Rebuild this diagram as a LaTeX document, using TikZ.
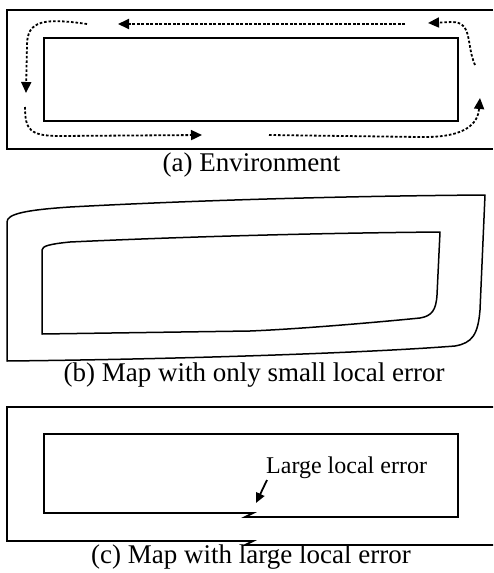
\documentclass[tikz,border=0pt]{standalone}
\usepackage{fontspec}
\setmainfont{Liberation Serif}
\usetikzlibrary{arrows.meta}
\begin{document}
\begin{tikzpicture}[x=1pt,y=-1pt,
  wall/.style={line width=1.8pt, line join=miter},
  mapline/.style={line width=1.5pt, line join=round},
  route/.style={line width=1.8pt, dash pattern=on 2.6pt off 1.9pt, -{Triangle[length=11pt,width=10pt]}},
  captext/.style={anchor=base, font=\fontsize{27}{27}\selectfont, inner sep=0pt},
  lbl/.style={anchor=base west, font=\fontsize{24}{24}\selectfont, inner sep=0pt},
  pointer/.style={line width=1.8pt, -{Triangle[length=10pt,width=9pt]}}]
\useasboundingbox (0,0) rectangle (493,573);

% ---------- (a) Environment ----------
\draw[wall] (493,10) -- (7,10) -- (7,149) -- (493,149);
\draw[wall] (44,38) rectangle (458,121);
\draw[route] (405,24) -- (118,24);
\draw[route] (87,24) .. controls (45,18) and (27,20) .. (27,45) -- (26,93);
\draw[route] (25,107) .. controls (25,130) and (30,136) .. (60,136) -- (202,135);
\draw[route] (269,135) -- (420,137) .. controls (468,138) and (478,122) .. (480,98);
\draw[route] (475,65) .. controls (466,45) and (473,22) .. (452,22) -- (428,23);
\node[captext] (capa) at (251.5,171) {(a) Environment};

% ---------- (b) Map with only small local error ----------
\draw[mapline] (7,361) -- (7,222) .. controls (7,214) and (25,210) .. (70,207)
  .. controls (200,200) and (350,196) .. (485,195)
  -- (480,310) .. controls (478,335) and (472,343) .. (455,346)
  .. controls (380,352) and (200,359) .. cycle;
\draw[mapline] (42,334) -- (42,250) .. controls (42,246) and (50,244) .. (70,242)
  .. controls (200,236) and (330,233) .. (440,232)
  -- (437,295) .. controls (436,310) and (432,316) .. (420,318)
  .. controls (380,322) and (300,329) .. (250,331) -- cycle;
\node[captext] (capb) at (254,381) {(b) Map with only small local error};

% ---------- (c) Map with large local error ----------
\draw[wall] (493,407) -- (7,407) -- (7,541) -- (253,541) -- (245,545) -- (493,545);
\draw[wall] (253,513) -- (44,513) -- (44,434) -- (458,434) -- (458,517) -- (245,517) -- cycle;
\node[lbl] (lab) at (266,473) {Large local error};
\coordinate (tip) at (256,503);
\draw[pointer] (267,480) -- (tip);
\node[captext] (capc) at (251,563) {(c) Map with large local error};
\end{tikzpicture}
\end{document}
